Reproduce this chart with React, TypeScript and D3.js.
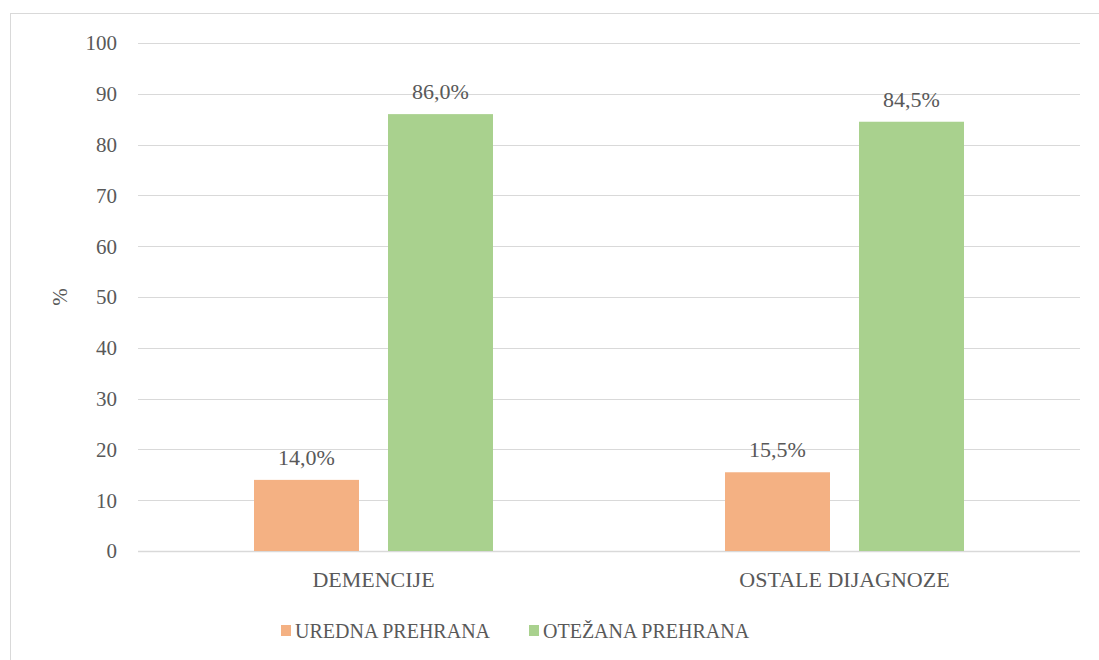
import React, { useEffect, useRef } from 'react';
import * as d3 from 'd3';

const categories = ['DEMENCIJE', 'OSTALE DIJAGNOZE'];
const seriesNames = ['UREDNA PREHRANA', 'OTEŽANA PREHRANA'];
const urednaValues = [14.0, 15.5];
const otezanaValues = [86.0, 84.5];
const yTicks = [0, 10, 20, 30, 40, 50, 60, 70, 80, 90, 100];

const colors = ['#F4B183', '#A9D18E'];
const textColor = '#595959';
const font = "'Liberation Serif', 'Times New Roman', 'DejaVu Serif', serif";
const tickFs = 21;
const labelFs = 22;
const legendFs = 20;

const App = () => {
  const svgRef = useRef<SVGSVGElement>(null);

  useEffect(() => {
    const svg = d3.select(svgRef.current);
    svg.selectAll('*').remove();

    const W = 1099;
    const H = 660;
    svg.attr('width', W).attr('height', H).style('font-family', font);

    // chart border
    svg.append('rect')
      .attr('x', 10.5).attr('y', 13.5)
      .attr('width', 1100).attr('height', 660)
      .attr('fill', '#fff')
      .attr('stroke', '#d9d9d9')
      .attr('stroke-width', 1);

    const left = 138, right = 1080, top = 43, bottom = 551;

    const x = d3.scaleBand().domain(categories).range([left, right]);
    const y = d3.scaleLinear().domain([0, 100]).range([bottom, top]);

    const series = [urednaValues, otezanaValues];
    const barW = 105;
    const gap = 29;

    // gridlines
    svg.append('g').selectAll('line')
      .data(yTicks)
      .enter().append('line')
      .attr('x1', left).attr('x2', right)
      .attr('y1', d => Math.round(y(d)) + 0.5)
      .attr('y2', d => Math.round(y(d)) + 0.5)
      .attr('stroke', '#d9d9d9')
      .attr('stroke-width', d => (d === 0 ? 1.5 : 1));

    // y tick labels
    svg.append('g').selectAll('text')
      .data(yTicks)
      .enter().append('text')
      .attr('x', 117)
      .attr('y', d => y(d))
      .attr('dy', '0.35em')
      .attr('text-anchor', 'end')
      .attr('font-size', tickFs)
      .attr('fill', textColor)
      .text(d => d);

    // y axis title
    svg.append('text')
      .attr('transform', `translate(67,${(top + bottom) / 2}) rotate(-90)`)
      .attr('text-anchor', 'middle')
      .attr('font-size', tickFs)
      .attr('fill', textColor)
      .text('%');

    // bars
    series.forEach((vals, si) => {
      const offset = si === 0 ? -(gap / 2 + barW) : gap / 2;
      const g = svg.append('g');
      g.selectAll('rect')
        .data(vals)
        .enter().append('rect')
        .attr('x', (d, i) => (x(categories[i]) as number) + x.bandwidth() / 2 + offset)
        .attr('y', d => y(d))
        .attr('width', barW)
        .attr('height', d => y(0) - y(d))
        .attr('fill', colors[si]);

      g.selectAll('text')
        .data(vals)
        .enter().append('text')
        .attr('x', (d, i) => (x(categories[i]) as number) + x.bandwidth() / 2 + offset + barW / 2)
        .attr('y', d => y(d) - 15)
        .attr('text-anchor', 'middle')
        .attr('font-size', labelFs)
        .attr('fill', textColor)
        .text(d => d.toFixed(1).replace('.', ',') + '%');
    });

    // category labels
    svg.append('g').selectAll('text')
      .data(categories)
      .enter().append('text')
      .attr('x', d => (x(d) as number) + x.bandwidth() / 2)
      .attr('y', 587)
      .attr('text-anchor', 'middle')
      .attr('font-size', labelFs)
      .attr('fill', textColor)
      .text(d => d);

    // legend
    const legendX = [281, 529];
    seriesNames.forEach((name, i) => {
      svg.append('rect')
        .attr('x', legendX[i]).attr('y', 625)
        .attr('width', 10).attr('height', 11)
        .attr('fill', colors[i]);
      svg.append('text')
        .attr('x', legendX[i] + 14)
        .attr('y', 638)
        .attr('font-size', legendFs)
        .attr('fill', textColor)
        .text(name);
    });
  }, []);

  return (
    <div style={{ position: 'absolute', left: 0, top: 0, width: 1099, height: 660, overflow: 'hidden', background: '#fff' }}>
      <svg ref={svgRef} style={{ display: 'block' }}></svg>
    </div>
  );
};

export default App;
